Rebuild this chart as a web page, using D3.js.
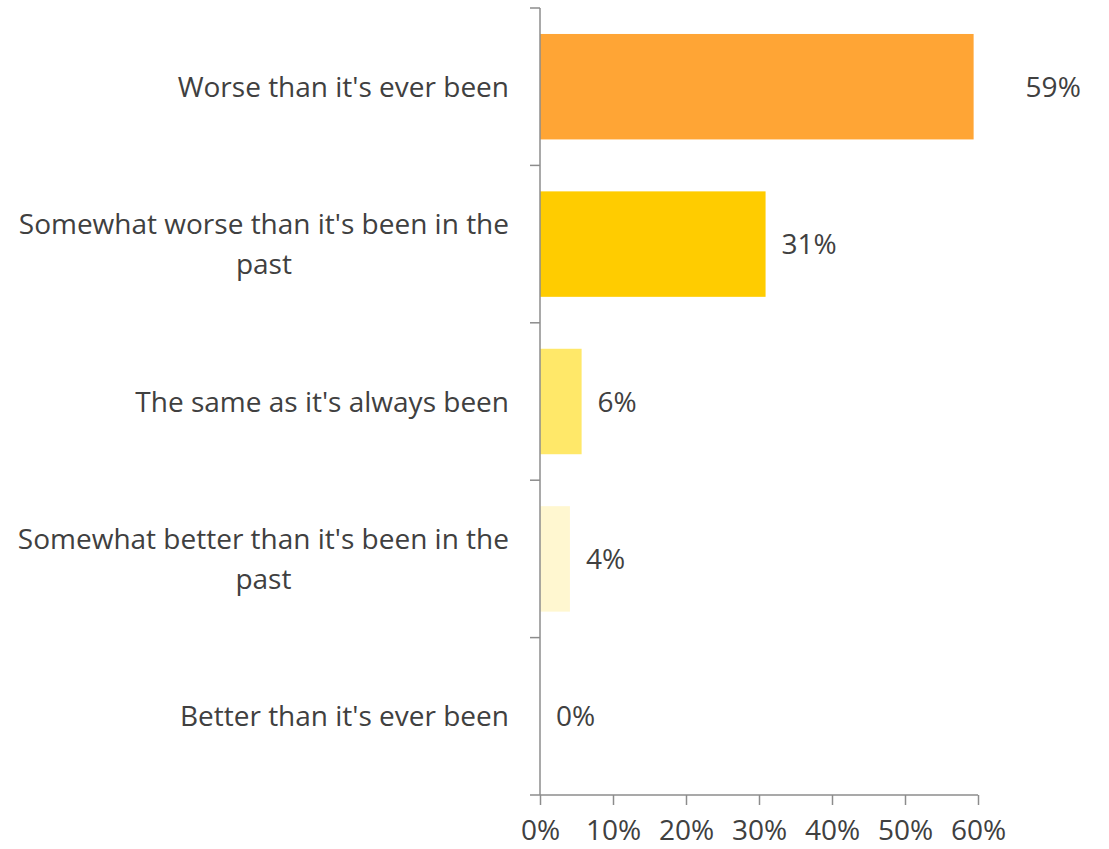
<!DOCTYPE html>
<html>
<head>
<meta charset="utf-8">
<script src="https://cdn.jsdelivr.net/npm/d3@7"></script>
<style>
  body { margin: 0; background: #fff; }
  text { font-family: "Open Sans", Lato, sans-serif; fill: #404040; }
</style>
</head>
<body>
<div id="chart"></div>
<script>
// categories, top to bottom
var categories = [
	"Worse than it's ever been",
	"Somewhat worse than it's been in the past",
	"The same as it's always been",
	"Somewhat better than it's been in the past",
	"Better than it's ever been"
];
var values = [59.4, 30.9, 5.7, 4.1, 0];
var colors = ['#FFA535', '#FFCC00', '#FFE869', '#FFF7D0', '#FFF7D0'];
var xTicks = [0, 10, 20, 30, 40, 50, 60];

(function() {
	var width = 1109, height = 849;
	var pLeft = 540, pRight = 978, pTop = 8, pBottom = 795;
	var fs = '28px';

	var svg = d3.select('#chart').append('svg')
		.attr('width', width)
		.attr('height', height);

	var x = d3.scaleLinear().domain([0, 60]).range([pLeft, pRight]);
	var y = d3.scaleBand().domain(categories).range([pTop, pBottom]).paddingInner(0.33).paddingOuter(0.165);

	// bars
	svg.selectAll('.bar')
		.data(categories)
		.enter()
			.append('rect')
				.attr('class', 'bar')
				.attr('x', x(0))
				.attr('y', function(d) { return y(d); })
				.attr('width', function(d, i) { return x(values[i]) - x(0); })
				.attr('height', y.bandwidth())
				.attr('fill', function(d, i) { return colors[i]; });

	// x axis
	var xAxis = svg.append('g')
		.attr('transform', 'translate(0,' + pBottom + ')')
		.call(d3.axisBottom(x).tickValues(xTicks).tickSize(10).tickSizeOuter(0)
			.tickFormat(function(d) { return d + '%'; }));
	xAxis.select('.domain').attr('stroke', '#8c8c8c').attr('stroke-width', 1.5)
		.attr('d', 'M' + (pLeft - 10) + ',0H' + pRight);
	xAxis.selectAll('.tick line').attr('stroke', '#8c8c8c').attr('stroke-width', 1.5);
	xAxis.selectAll('.tick text')
		.attr('y', 45)
		.attr('dy', 0)
		.style('font-size', fs);

	// y axis: ticks on band boundaries
	var yAxisG = svg.append('g');
	yAxisG.append('line')
		.attr('x1', pLeft).attr('x2', pLeft)
		.attr('y1', pTop).attr('y2', pBottom)
		.attr('stroke', '#8c8c8c').attr('stroke-width', 1.5);
	var step = (pBottom - pTop) / categories.length;
	yAxisG.selectAll('.ytick')
		.data(d3.range(categories.length))
		.enter()
			.append('line')
				.attr('class', 'ytick')
				.attr('x1', pLeft - 10).attr('x2', pLeft)
				.attr('y1', function(i) { return pTop + i * step; })
				.attr('y2', function(i) { return pTop + i * step; })
				.attr('stroke', '#8c8c8c').attr('stroke-width', 1.5);

	// category labels: wrapped, block right-aligned at 509, lines centred in the block
	var labelW = 500, labelRight = 509, lineH = 40;
	categories.forEach(function(c, i) {
		var probe = svg.append('text').style('font-size', fs);
		var measure = function(s) { probe.text(s); return probe.node().getComputedTextLength(); };
		var words = c.split(' ');
		var lines = [], line = [];
		words.forEach(function(w) {
			line.push(w);
			if(measure(line.join(' ')) > labelW && line.length > 1) {
				line.pop();
				lines.push(line.join(' '));
				line = [w];
			}
		});
		lines.push(line.join(' '));
		var blockW = d3.max(lines, measure);
		probe.remove();

		var t = svg.append('text')
			.attr('text-anchor', 'middle')
			.style('font-size', fs);
		var cy = y(c) + y.bandwidth() / 2;
		var cx = labelRight - blockW / 2;
		lines.forEach(function(l, j) {
			t.append('tspan')
				.attr('x', cx)
				.attr('y', cy + (j - (lines.length - 1) / 2) * lineH + 10)
				.text(l);
		});
	});

	// value labels
	svg.selectAll('.val')
		.data(categories)
		.enter()
			.append('text')
				.attr('class', 'val')
				.attr('x', function(d, i) { return x(values[i]) + (i == 0 ? 52 : 16); })
				.attr('y', function(d) { return y(d) + y.bandwidth() / 2 + 10; })
				.style('font-size', fs)
				.text(function(d, i) { return Math.round(values[i]) + '%'; });
})();
</script>
</body>
</html>
